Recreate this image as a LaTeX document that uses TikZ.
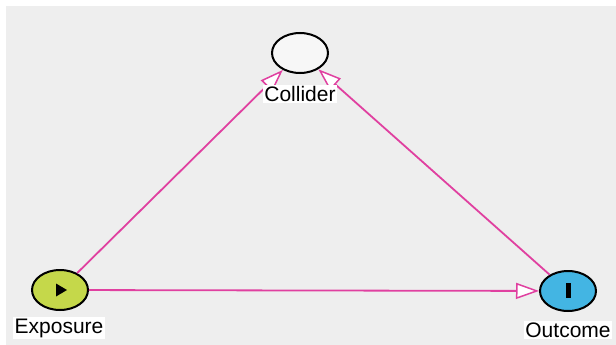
\documentclass[tikz,border=0pt]{standalone}
\usepackage{fontspec}
\setmainfont{Liberation Sans}
\usetikzlibrary{shapes.geometric,arrows.meta}
\definecolor{canvas}{HTML}{EEEEEE}
\definecolor{edgepink}{HTML}{E040A0}
\definecolor{expfill}{HTML}{C5D84A}
\definecolor{outfill}{HTML}{43B5E3}
\definecolor{latfill}{HTML}{F7F7F7}
\tikzset{
  var/.style={ellipse, draw=black, line width=2pt, minimum width=56pt, minimum height=40pt, inner sep=0pt},
  varlabel/.style={fill=white, inner sep=1.5pt, font=\fontsize{21}{24}\selectfont, text=black},
  edge/.style={draw=edgepink, line width=1.8pt, -{Triangle[length=23pt,width=16pt,fill=white,line width=1.5pt]}},
}
\begin{document}
\begin{tikzpicture}[x=1pt,y=-1pt]
  \useasboundingbox (0,0) rectangle (616,345);
  % canvas
  \fill[canvas] (6,6) rectangle (616,345);
  % variables
  \node[var, fill=latfill] (col) at (300,53) {};
  \node[var, fill=expfill] (exp) at (60,290) {};
  \node[var, fill=outfill] (out) at (568,291) {};
  % edges
  \draw[edge] (exp) -- (col);
  \draw[edge] (out) -- (col);
  \draw[edge] (exp) -- (out);
  % markers inside the nodes
  \fill[black] (56,283.5) -- (67,290) -- (56,296.5) -- cycle;
  \fill[black] (566,283) rectangle (570.5,298);
  % labels
  \node[varlabel] (collab) at (300,94) {Collider};
  \node[varlabel] (explab) at (59,328) {Exposure};
  \node[varlabel] (outlab) at (568,330) {Outcome};
\end{tikzpicture}
\end{document}
